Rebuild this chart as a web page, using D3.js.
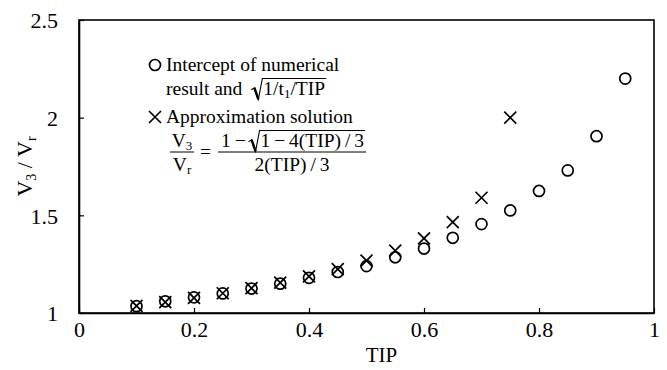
<!DOCTYPE html>
<html>
<head>
<meta charset="utf-8">
<script src="https://cdn.jsdelivr.net/npm/d3@7"></script>
<style>
  body { margin: 0; background: #fff; }
  svg { font-family: "Liberation Serif", "Times New Roman", serif; }
</style>
</head>
<body>
<svg id="chart" width="667" height="370"></svg>
<script>
// Numerical intercepts of V3/Vr against TIP
const tipNumerical = [0.1, 0.15, 0.2, 0.25, 0.3, 0.35, 0.4, 0.45, 0.5, 0.55, 0.6, 0.65, 0.7, 0.75, 0.8, 0.85, 0.9, 0.95];
const ratioNumerical = [1.035, 1.06, 1.08, 1.10, 1.125, 1.15, 1.18, 1.21, 1.24, 1.285, 1.33, 1.385, 1.455, 1.525, 1.625, 1.73, 1.905, 2.20];

// Approximation solution values
const tipApprox = [0.1, 0.15, 0.2, 0.25, 0.3, 0.35, 0.4, 0.45, 0.5, 0.55, 0.6, 0.65, 0.7, 0.75];
const ratioApprox = [1.036, 1.056, 1.077, 1.101, 1.127, 1.156, 1.188, 1.225, 1.268, 1.319, 1.382, 1.465, 1.59, 2.0];

const xTicks = [0, 0.2, 0.4, 0.6, 0.8, 1];
const xTickLabels = ["0", "0.2", "0.4", "0.6", "0.8", "1"];
const yTicks = [1, 1.5, 2, 2.5];
const yTickLabels = ["1", "1.5", "2", "2.5"];

const svg = d3.select("#chart");
const plot = { left: 79, right: 654, top: 20, bottom: 313 };

const x = d3.scaleLinear().domain([0, 1]).range([plot.left, plot.right]);
const y = d3.scaleLinear().domain([1, 2.5]).range([plot.bottom, plot.top]);

const tickFont = 22;

// Frame
svg.append("rect")
  .attr("x", plot.left).attr("y", plot.top)
  .attr("width", plot.right - plot.left).attr("height", plot.bottom - plot.top)
  .attr("fill", "none").attr("stroke", "#000").attr("stroke-width", 1.6);

// Axes with inward ticks
const xAxis = svg.append("g")
  .attr("transform", `translate(0,${plot.bottom})`)
  .call(d3.axisBottom(x).tickValues(xTicks).tickFormat((d, i) => xTickLabels[i])
    .tickSize(-5).tickSizeOuter(0).tickPadding(8));
const yAxis = svg.append("g")
  .attr("transform", `translate(${plot.left},0)`)
  .call(d3.axisLeft(y).tickValues(yTicks).tickFormat((d, i) => yTickLabels[i])
    .tickSize(-5).tickSizeOuter(0).tickPadding(21));

[xAxis, yAxis].forEach(a => {
  a.select(".domain").attr("stroke", "#000").attr("stroke-width", 1.6);
  a.selectAll(".tick line").attr("stroke", "#000").attr("stroke-width", 1.2);
  a.selectAll(".tick text")
    .attr("fill", "#000")
    .style("font-family", "Liberation Serif, Times New Roman, serif")
    .style("font-size", tickFont + "px");
});
yAxis.selectAll(".tick text").attr("dy", "0.35em");

// Axis titles
svg.append("text")
  .attr("x", (plot.left + plot.right) / 2 + 15).attr("y", 362)
  .attr("text-anchor", "middle").style("font-size", "21px").text("TIP");

const yTitle = svg.append("text")
  .attr("transform", `translate(32,${(plot.top + plot.bottom) / 2}) rotate(-90)`)
  .attr("text-anchor", "middle").style("font-size", "22px");
yTitle.append("tspan").text("V");
yTitle.append("tspan").attr("baseline-shift", "-25%").style("font-size", "14px").text("3");
yTitle.append("tspan").text(" / V");
yTitle.append("tspan").attr("baseline-shift", "-25%").style("font-size", "14px").text("r");

// Marker shapes
function drawCircle(g, cx, cy) {
  g.append("circle").attr("cx", cx).attr("cy", cy).attr("r", 5.5)
    .attr("fill", "none").attr("stroke", "#000").attr("stroke-width", 1.7);
}
function drawCross(g, cx, cy) {
  const s = 6;
  g.append("path")
    .attr("d", `M${cx - s},${cy - s}L${cx + s},${cy + s}M${cx - s},${cy + s}L${cx + s},${cy - s}`)
    .attr("stroke", "#000").attr("stroke-width", 1.7).attr("fill", "none");
}

const marks = svg.append("g");
tipApprox.forEach((t, i) => drawCross(marks, x(t), y(ratioApprox[i])));
tipNumerical.forEach((t, i) => drawCircle(marks, x(t), y(ratioNumerical[i])));

// Legend
const fs = 19.5;
const legend = svg.append("g").style("font-size", fs + "px");
const lx = 166;

drawCircle(legend, 155, 65);
legend.append("text").attr("x", lx).attr("y", 71).text("Intercept of numerical");
const l2 = legend.append("text").attr("x", lx).attr("y", 95).text("result and");
const l2w = l2.node().getComputedTextLength();

// Draw a radical sign spanning a given inner width
function radical(g, x0, baseline, innerW, size) {
  const top = baseline - size * 0.85;
  const bottom = baseline + size * 0.22;
  const hookY = baseline - size * 0.32;
  g.append("path")
    .attr("d", `M${x0},${hookY + 1}L${x0 + 3},${hookY - 1}L${x0 + 7},${bottom}L${x0 + 11},${top}L${x0 + 13 + innerW},${top}`)
    .attr("fill", "none").attr("stroke", "#000").attr("stroke-width", 1.1)
    .attr("stroke-linejoin", "miter");
  g.append("path")
    .attr("d", `M${x0 + 3},${hookY - 1}L${x0 + 7},${bottom}`)
    .attr("stroke", "#000").attr("stroke-width", 2.4);
}

const r1x = lx + l2w + 9;
const inner1 = legend.append("text").attr("x", r1x + 12).attr("y", 95);
inner1.append("tspan").text("1/t");
inner1.append("tspan").attr("baseline-shift", "-25%").style("font-size", "13px").text("1");
inner1.append("tspan").text("/TIP");
radical(legend, r1x, 95, inner1.node().getBBox().width, fs);

drawCross(legend, 155, 117);
legend.append("text").attr("x", lx).attr("y", 123).text("Approximation solution");

// Formula V3/Vr = (1 - sqrt(1 - 4(TIP)/3)) / (2(TIP)/3)
const fracLineY = 152;
const numY = 147;
const denY = 171;
const f1 = legend.append("text").attr("x", 182).attr("y", numY).attr("text-anchor", "middle");
f1.append("tspan").text("V");
f1.append("tspan").attr("baseline-shift", "-25%").style("font-size", "13px").text("3");
const f2 = legend.append("text").attr("x", 182).attr("y", denY).attr("text-anchor", "middle");
f2.append("tspan").text("V");
f2.append("tspan").attr("baseline-shift", "-25%").style("font-size", "13px").text("r");
legend.append("line").attr("x1", 170).attr("x2", 194).attr("y1", fracLineY).attr("y2", fracLineY)
  .attr("stroke", "#000").attr("stroke-width", 1);
legend.append("text").attr("x", 200).attr("y", 158).text("=");

const numStartX = 221;
const n1 = legend.append("text").attr("x", numStartX).attr("y", numY).text("1\u2009\u2212\u2009");
const n1w = n1.node().getComputedTextLength();
const r2x = numStartX + n1w - 1;
const n2 = legend.append("text").attr("x", r2x + 12).attr("y", numY).text("1\u2009\u2212\u20094(TIP)\u2009/\u20093");
const n2w = n2.node().getComputedTextLength();
radical(legend, r2x, numY, n2w, fs);
const numEnd = r2x + 13 + n2w;
legend.append("line").attr("x1", 218).attr("x2", numEnd + 1).attr("y1", fracLineY).attr("y2", fracLineY)
  .attr("stroke", "#000").attr("stroke-width", 1);
legend.append("text").attr("x", (218 + numEnd + 1) / 2).attr("y", denY)
  .attr("text-anchor", "middle").text("2(TIP)\u2009/\u20093");
</script>
</body>
</html>
